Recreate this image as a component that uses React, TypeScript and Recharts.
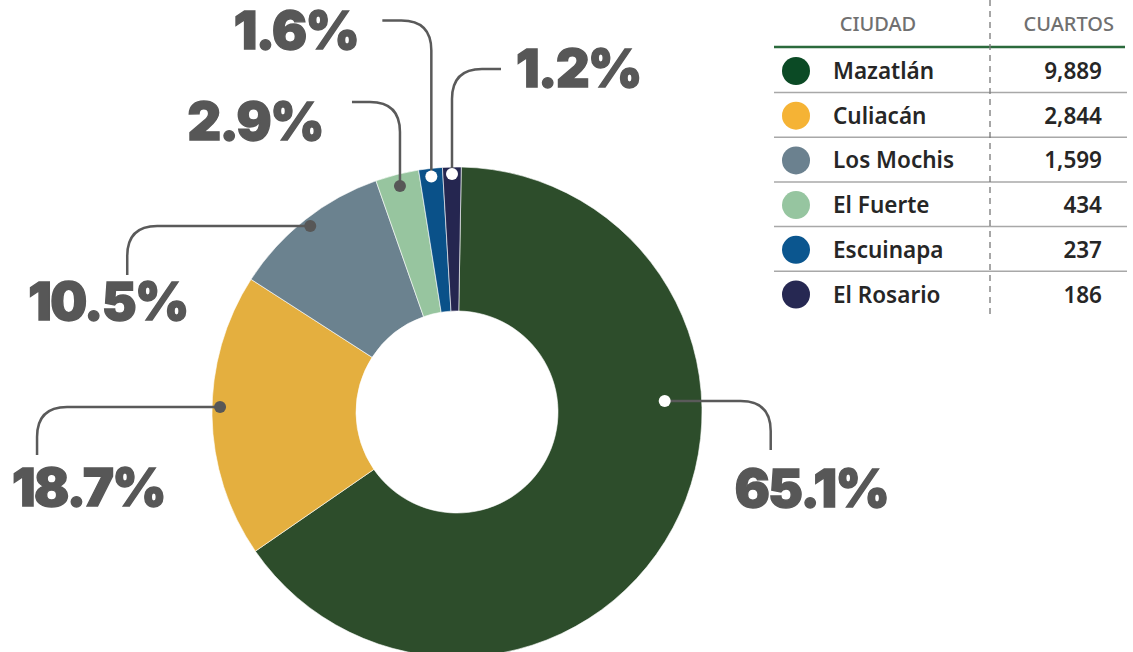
import React from "react";
import { PieChart, Pie, Cell, Legend } from "recharts";

const cities = ["Mazatlán", "Culiacán", "Los Mochis", "El Fuerte", "Escuinapa", "El Rosario"];
const rooms = [9889, 2844, 1599, 434, 237, 186];

const sliceColors = ["#2d4d2b", "#e4af3f", "#6b828f", "#97c59f", "#0a5189", "#252650"];
const legendColors = ["#0b4a25", "#f5b335", "#6b818f", "#96c5a0", "#0b568f", "#262852"];
const dotColors = ["#ffffff", "#575757", "#575757", "#575757", "#ffffff", "#ffffff"];

// callout layout: anchor angle (null = slice middle), anchor radius, route, elbow end, label offset
const callouts = [
  { angle: 3.0, r: 208, route: "h", ex: 106, ey: 49, lx: -36, ly: 57, anchor: "start" },
  { angle: 178.8, r: 237, route: "h", ex: -183, ey: 48, lx: -25, ly: 51, anchor: "start" },
  { angle: null, r: 237, route: "h", ex: -183, ey: 49, lx: -99, ly: 45, anchor: "start" },
  { angle: null, r: 233, route: "v", ex: -48, ey: -84, lx: -29, ly: 38, anchor: "end" },
  { angle: null, r: 237, route: "v", ex: -49, ey: -156, lx: -24, ly: 29, anchor: "end" },
  { angle: null, r: 238, route: "v", ex: 49, ey: -105, lx: 15, ly: 18, anchor: "start" },
];

const data = cities.map((name, i) => ({ name, rooms: rooms[i] }));

const RAD = Math.PI / 180;

function renderCallout(props: any) {
  const { cx, cy, midAngle, percent, index } = props;
  const c = callouts[index];
  const ang = c.angle == null ? midAngle : c.angle;
  const ax = cx + c.r * Math.cos(ang * RAD);
  const ay = cy - c.r * Math.sin(ang * RAD);
  const ex = ax + c.ex;
  const ey = ay + c.ey;
  const rr = 30;
  const sx = Math.sign(c.ex);
  const sy = Math.sign(c.ey);
  const d =
    c.route === "h"
      ? `M${ax},${ay} L${ex - sx * rr},${ay} Q${ex},${ay} ${ex},${ay + sy * rr} L${ex},${ey}`
      : `M${ax},${ay} L${ax},${ey - sy * rr} Q${ax},${ey} ${ax + sx * rr},${ey} L${ex},${ey}`;
  return (
    <g key={`co-${index}`}>
      <path d={d} fill="none" stroke="#5a5a5a" strokeWidth={2.5} />
      <circle cx={ax} cy={ay} r={6} fill={dotColors[index]} />
      <text
        x={ex + c.lx}
        y={ey + c.ly}
        textAnchor={c.anchor}
        fill="#575757"
        stroke="#575757"
        strokeWidth={1.4}
        fontFamily="Inter, 'Noto Sans', sans-serif"
        fontWeight={900}
        fontSize={52}
        letterSpacing={-1.5}
      >
        {(percent * 100).toFixed(1)}%
      </text>
    </g>
  );
}

function CityTable() {
  const rowH = 44.7;
  return (
    <svg width={363} height={330} style={{ display: "block" }}>
      <g fontFamily="'Noto Sans', sans-serif">
        <text x={108} y={31} textAnchor="middle" fontSize={20} fontWeight={500} fill="#707070">
          CIUDAD
        </text>
        <text x={344} y={31} textAnchor="end" fontSize={20} fontWeight={500} fill="#707070">
          CUARTOS
        </text>
        <line x1={4} x2={355} y1={47} y2={47} stroke="#2b6a3c" strokeWidth={2.5} />
        {cities.map((name, i) => {
          const cy = 71 + i * rowH;
          return (
            <g key={name}>
              {i < cities.length - 1 && (
                <line x1={4} x2={357} y1={cy + 21.5} y2={cy + 21.5} stroke="#a8a8a8" strokeWidth={1.5} />
              )}
              <circle cx={26} cy={cy} r={14} fill={legendColors[i]} />
              <text x={63} y={cy + 8} fontSize={22.5} fontWeight={600} fill="#262626">
                {name}
              </text>
              <text x={332} y={cy + 8} textAnchor="end" fontSize={22.5} fontWeight={600} fill="#262626">
                {rooms[i].toLocaleString("en-US")}
              </text>
            </g>
          );
        })}
        <line x1={220} x2={220} y1={0} y2={318} stroke="#777" strokeWidth={1.3} strokeDasharray="6 5" />
      </g>
    </svg>
  );
}

export default function App() {
  return (
    <div style={{ position: "absolute", left: 0, top: 0, width: 1133, height: 652, background: "#fff" }}>
      <PieChart width={1133} height={652} margin={{ top: 0, right: 0, bottom: 0, left: 0 }}>
        <Pie
          data={data}
          dataKey="rooms"
          nameKey="name"
          cx={457}
          cy={412}
          innerRadius={101}
          outerRadius={245}
          startAngle={89}
          endAngle={-271}
          stroke="#ffffff"
          strokeWidth={0.6}
          label={renderCallout}
          labelLine={false}
          isAnimationActive={false}
        >
          {data.map((d, i) => (
            <Cell key={d.name} fill={sliceColors[i]} />
          ))}
        </Pie>
        <Legend
          content={() => <CityTable />}
          wrapperStyle={{ position: "absolute", left: 770, top: 0, width: 363, height: 330 }}
        />
      </PieChart>
    </div>
  );
}
